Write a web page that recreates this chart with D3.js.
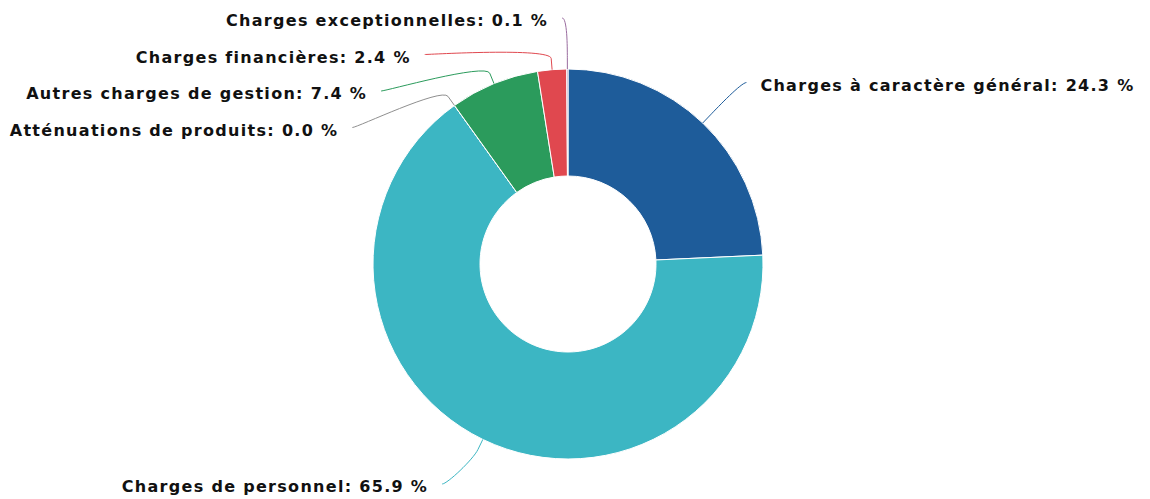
<!DOCTYPE html>
<html>
<head>
<meta charset="utf-8">
<script src="https://cdn.jsdelivr.net/npm/d3@7"></script>
<style>
  html, body { margin: 0; padding: 0; background: #ffffff; }
  svg { display: block; }
  .lbl {
    font-family: "DejaVu Sans", Verdana, sans-serif;
    font-weight: bold;
    font-size: 16px;
    letter-spacing: 1.3px;
    fill: #111111;
    stroke: #ffffff;
    stroke-width: 2px;
    paint-order: stroke;
    stroke-linejoin: round;
  }
</style>
</head>
<body>
<div id="chart"></div>
<script>
// Répartition des dépenses de fonctionnement (en %)
const categories = [
  "Charges à caractère général",
  "Charges de personnel",
  "Atténuations de produits",
  "Autres charges de gestion",
  "Charges financières",
  "Charges exceptionnelles"
];
const shares = [24.3, 65.9, 0.0, 7.4, 2.4, 0.1];
const sliceColors = ["#1e5c9a", "#3cb6c3", "#8f8f8f", "#2b9b5c", "#e0484f", "#9a6c9f"];

const width = 1150, height = 499;
const cx = 568, cy = 264;
const outerR = 195, innerR = 88;
const labelDistance = 56;      // distance of the label ring beyond the pie edge
const connectorPadding = 5;
const textGap = 14;            // gap between connector start and text
const labelSpacing = 36.5;     // minimum vertical spacing between labels
const labelTop = 18, labelBottom = 484;

const svg = d3.select("#chart").append("svg")
  .attr("width", width).attr("height", height);

const data = categories.map((name, i) => ({ name, value: shares[i], color: sliceColors[i] }));

const pie = d3.pie().sort(null).value(d => d.value);
const arcs = pie(data);

const arc = d3.arc().innerRadius(innerR).outerRadius(outerR);

const g = svg.append("g").attr("transform", `translate(${cx},${cy})`);

g.selectAll("path.slice")
  .data(arcs)
  .join("path")
  .attr("class", "slice")
  .attr("d", arc)
  .attr("fill", d => d.data.color)
  .attr("stroke", "#ffffff")
  .attr("stroke-width", 1)
  .attr("stroke-linejoin", "round");

// Label layout: natural position on a ring, then pushed apart per side
const R = outerR + labelDistance;
const labels = arcs.map(a => {
  const mid = (a.startAngle + a.endAngle) / 2;
  return {
    arc: a,
    mid,
    left: mid > Math.PI,
    naturalY: cy - R * Math.cos(mid),
    text: `${a.data.name}: ${a.data.value.toFixed(1)} %`
  };
});

["left", "right"].forEach(side => {
  const group = labels.filter(l => (side === "left") === l.left)
    .sort((a, b) => a.naturalY - b.naturalY);
  let prev = -Infinity;
  group.forEach(l => {
    l.y = Math.max(l.naturalY, prev + labelSpacing, labelTop);
    prev = l.y;
  });
  // pull back up if the last ones overflow the bottom
  let next = Infinity;
  for (let i = group.length - 1; i >= 0; i--) {
    const l = group[i];
    l.y = Math.min(l.y, next - labelSpacing, labelBottom);
    next = l.y;
  }
});

labels.forEach(l => {
  const sign = l.left ? -1 : 1;
  // near the very top/bottom keep the natural height for the x position
  const yForX = Math.abs(l.y - cy) > R - 8 ? l.naturalY : l.y;
  const dy = Math.max(-R, Math.min(R, yForX - cy));
  l.x = cx + sign * (Math.sqrt(R * R - dy * dy) + connectorPadding);
  const mx = Math.sin(l.mid), my = -Math.cos(l.mid);
  l.touch = [cx + mx * outerR, cy + my * outerR];
  l.brk = [cx + mx * (outerR + labelDistance / 5), cy + my * (outerR + labelDistance / 5)];
});

const connector = l => {
  const p = d3.path();
  p.moveTo(l.x, l.y);
  p.bezierCurveTo(
    l.x + (l.left ? 5 : -5), l.y,
    2 * l.brk[0] - l.touch[0], 2 * l.brk[1] - l.touch[1],
    l.brk[0], l.brk[1]
  );
  p.lineTo(l.touch[0], l.touch[1]);
  return p.toString();
};

svg.append("g").selectAll("path")
  .data(labels)
  .join("path")
  .attr("d", connector)
  .attr("fill", "none")
  .attr("stroke", l => l.arc.data.color)
  .attr("stroke-width", 1);

svg.append("g").selectAll("text")
  .data(labels)
  .join("text")
  .attr("class", "lbl")
  .attr("x", l => l.x + (l.left ? -textGap : textGap))
  .attr("y", l => l.y + 8)
  .attr("text-anchor", l => l.left ? "end" : "start")
  .text(l => l.text);
</script>
</body>
</html>
